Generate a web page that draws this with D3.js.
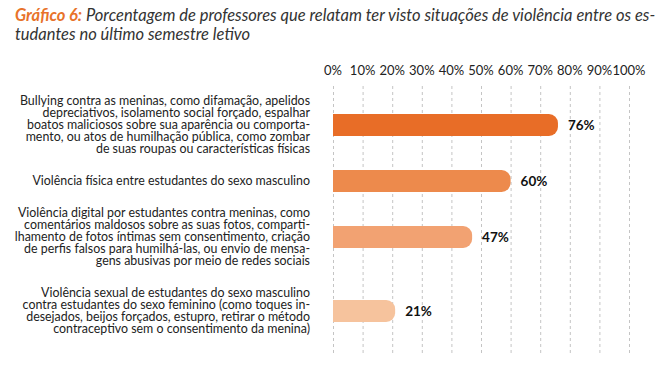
<!DOCTYPE html>
<html>
<head>
<meta charset="utf-8">
<script src="https://cdn.jsdelivr.net/npm/d3@7"></script>
<style>
  body { margin: 0; background: #fff; }
  svg text { font-family: Lato, 'Open Sans', sans-serif; }
  .grid line { stroke: #c4c4c4; stroke-dasharray: 3, 3; }
  .grid path { display: none; }
</style>
</head>
<body>
<svg class="chart" width="665" height="365"></svg>
<script>
// categories (line breaks as in the original layout)
const categories = [
  ['Bullying contra as meninas, como difamação, apelidos',
    'depreciativos, isolamento social forçado, espalhar',
    'boatos maliciosos sobre sua aparência ou comporta-',
    'mento, ou atos de humilhação pública, como zombar',
    'de suas roupas ou características físicas'],
  ['Violência física entre estudantes do sexo masculino'],
  ['Violência digital por estudantes contra meninas, como',
    'comentários maldosos sobre as suas fotos, comparti-',
    'lhamento de fotos íntimas sem consentimento, criação',
    'de perfis falsos para humilhá-las, ou envio de mensa-',
    'gens abusivas por meio de redes sociais'],
  ['Violência sexual de estudantes do sexo masculino',
    'contra estudantes do sexo feminino (como toques in-',
    'desejados, beijos forçados, estupro, retirar o método',
    'contraceptivo sem o consentimento da menina)']
]
const values = [76, 60, 47, 21]
const barColors = ['#e86d27', '#ed8a4c', '#f2a272', '#f6c39d']
const ticks = [0, 10, 20, 30, 40, 50, 60, 70, 80, 90, 100]

const svg = d3.select('.chart')

// title
const title = svg.append('text')
  .attr('x', 15)
  .attr('y', 21)
  .attr('font-size', 16.5)
  .attr('font-style', 'italic')
  .attr('fill', '#333')
title.append('tspan')
  .attr('font-weight', 'bold')
  .attr('fill', '#e8732a')
  .text('Gráfico 6:')
title.append('tspan')
  .text(' Porcentagem de professores que relatam ter visto situações de violência entre os es-')
svg.append('text')
  .attr('x', 15)
  .attr('y', 40)
  .attr('font-size', 16.5)
  .attr('font-style', 'italic')
  .attr('fill', '#333')
  .text('tudantes no último semestre letivo')

// layout: rows stacked by number of label lines
const lineH = 12
const gap = 20
const rowsTop = 95
const rows = []
let cursor = rowsTop
categories.forEach((lines, i) => {
  const h = lines.length * lineH
  rows.push({ lines, value: values[i], color: barColors[i], top: cursor, center: cursor + h / 2 })
  cursor += h + gap
})

const x = d3.scaleLinear().domain([0, 100]).range([333, 629])

// grid
svg.append('g')
  .attr('class', 'grid')
  .attr('transform', 'translate(0, 86)')
  .call(d3.axisBottom(x).tickValues(ticks).tickSize(269).tickFormat(''))

// tick labels on top
svg.append('g')
  .selectAll('text')
  .data(ticks)
  .join('text')
  .attr('x', d => x(d))
  .attr('y', 75)
  .attr('text-anchor', 'middle')
  .attr('font-size', 13)
  .attr('fill', '#222')
  .text(d => `${d}%`)

// labels
const labelG = svg.append('g')
rows.forEach(r => {
  labelG.append('text')
    .attr('text-anchor', 'end')
    .attr('font-size', 12.4)
    .attr('fill', '#222')
    .selectAll('tspan')
    .data(r.lines)
    .join('tspan')
    .attr('x', 310)
    .attr('y', (d, j) => r.top + j * lineH + lineH / 2 + 4.3)
    .text(d => d)
})

// bars with rounded right end
const barH = 22
const rad = 9
function barPath(r) {
  const x0 = x(0), x1 = x(r.value), y0 = r.center - barH / 2, y1 = r.center + barH / 2
  return `M${x0},${y0}H${x1 - rad}A${rad},${rad} 0 0 1 ${x1},${y0 + rad}` +
    `V${y1 - rad}A${rad},${rad} 0 0 1 ${x1 - rad},${y1}H${x0}Z`
}
svg.append('g')
  .selectAll('path')
  .data(rows)
  .join('path')
  .attr('d', barPath)
  .attr('fill', d => d.color)

svg.append('g')
  .selectAll('text')
  .data(rows)
  .join('text')
  .attr('x', d => x(d.value) + 10)
  .attr('y', d => d.center + 5)
  .attr('font-size', 13.5)
  .attr('font-weight', 'bold')
  .attr('fill', '#111')
  .text(d => `${d.value}%`)
</script>
</body>
</html>
